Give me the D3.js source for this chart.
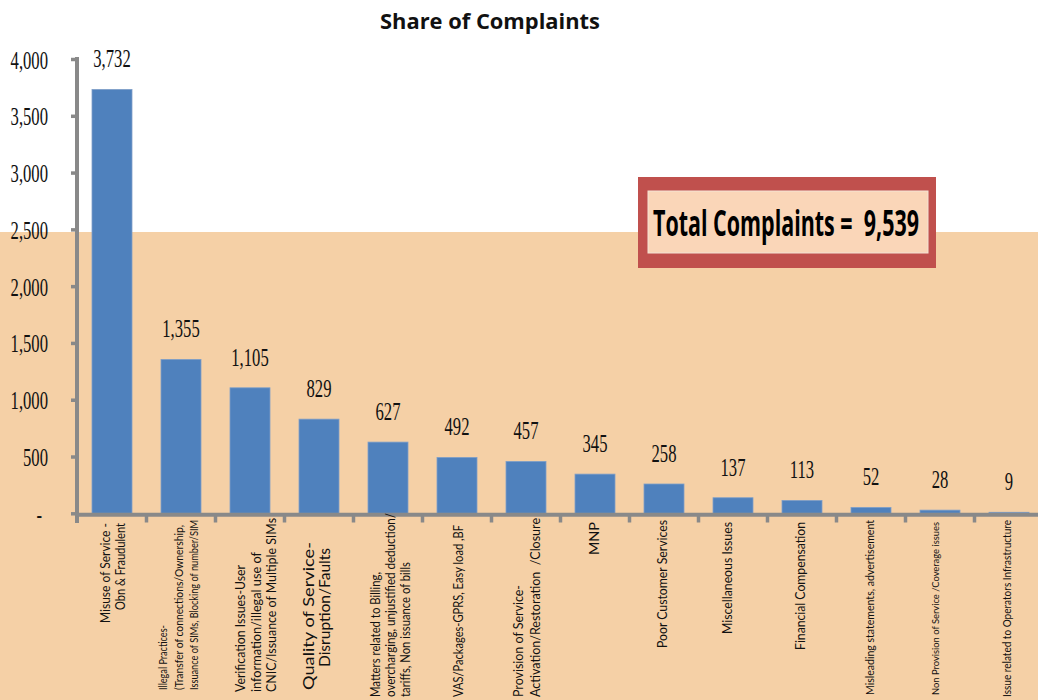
<!DOCTYPE html>
<html><head><meta charset="utf-8">
<script src="https://cdn.jsdelivr.net/npm/d3@7"></script>
<style>html,body{margin:0;padding:0;background:#fff;}svg{display:block;}</style>
</head><body>
<svg id="chart" width="1038" height="700"></svg>
<script>
// ---- data ----
const categories = [
  "Misuse of Service -\nObn & Fraudulent",
  "Illegal Practices-\n(Transfer of connections/Ownership,\nIssuance of SIMs, Blocking of number/SIM",
  "Verification Issues-User\ninformation/illegal use of\nCNIC/Issuance of Multiple SIMs",
  "Quality of Service-\nDisruption/Faults",
  "Matters related to Billing,\novercharging, unjustified deduction/\ntariffs, Non issuance of bills",
  "VAS/Packages-GPRS, Easy load ,BF",
  "Provision of Service-\nActivation/Restoration  /Closure",
  "MNP",
  "Poor Customer Services",
  "Miscellaneous Issues",
  "Financial Compensation",
  "Misleading statements, advertisement",
  "Non Provision of Service /Coverage issues",
  "Issue related to Operators Infrastructure"
];
const values = [3732, 1355, 1105, 829, 627, 492, 457, 345, 258, 137, 113, 52, 28, 9];
const yTicks = [0, 500, 1000, 1500, 2000, 2500, 3000, 3500, 4000];
const titleText = "Share of Complaints";
const totalText = "Total Complaints =  9,539";

// ---- layout / style for rotated category labels (not data) ----
// fs: font size, dx: offset of block centre, gap: line spacing,
// lines: [y where the line ends (top), length]
const labelLayout = [
  {fs:14, dx:0,  gap:15,   lines:[[523,100],[523,87]]},
  {fs:11, dx:-3, gap:15.5, lines:[[625,65],[525,165],[520,170]]},
  {fs:13, dx:5.5,gap:15.5, lines:[[565,127],[552,140],[518,174]]},
  {fs:16, dx:-4, gap:16,   lines:[[542,148],[548,119]]},
  {fs:12.5,dx:2, gap:15,   lines:[[572,125],[513,184],[562,135]]},
  {fs:13.5,dx:1, gap:15,   lines:[[525,172]]},
  {fs:13.5,dx:0, gap:17,   lines:[[585,112],[518,179]]},
  {fs:13, dx:-1, gap:15,   lines:[[522,33]]},
  {fs:13.5,dx:-2,gap:15,   lines:[[520,128]]},
  {fs:13.5,dx:-6,gap:15,   lines:[[522,112]]},
  {fs:13.5,dx:-2,gap:15,   lines:[[522,128]]},
  {fs:11, dx:-2, gap:15,   lines:[[520,175]]},
  {fs:10, dx:-5, gap:15,   lines:[[522,173]]},
  {fs:10.5,dx:-2,gap:15,   lines:[[520,177]]}
];

const W = 1038, H = 700;
const svg = d3.select("#chart");
const axisColor = "#898989";
const peach = "#F5D0A6";

// backgrounds
svg.append("rect").attr("x",0).attr("y",0).attr("width",W).attr("height",H).attr("fill","#fff");
svg.append("rect").attr("x",0).attr("y",232).attr("width",W).attr("height",H-232).attr("fill",peach);

// scales
const x = d3.scaleBand().domain(d3.range(categories.length))
  .range([77.5, 77.5 + 69*categories.length])
  .paddingInner(29/69).paddingOuter(29/138);
const y = d3.scaleLinear().domain([0, 4000]).range([513.3, 59]);

// bars
svg.append("g").selectAll("rect").data(values).join("rect")
  .attr("x", (d,i) => x(i))
  .attr("y", d => y(d))
  .attr("width", x.bandwidth())
  .attr("height", d => y(0) - y(d))
  .attr("fill", "#4F81BD")
  .attr("stroke", "#7f9fc8").attr("stroke-width", 0.8);

// value labels
const serifScale = 0.64;
svg.append("g").selectAll("text").data(values).join("text")
  .attr("transform", (d,i) => `translate(${x(i)+x.bandwidth()/2},${y(d)-22}) scale(${serifScale},1)`)
  .attr("text-anchor","middle")
  .attr("font-family","'Liberation Serif','Times New Roman',serif")
  .attr("font-size",26).attr("fill","#111")
  .text(d => d3.format(",")(d));

// y axis
const yAxis = d3.axisLeft(y).tickValues(yTicks).tickSize(6).tickSizeOuter(0)
  .tickFormat(d => d === 0 ? "-" : d3.format(",")(d));
const gy = svg.append("g").attr("transform","translate(77,0)").call(yAxis);
gy.select(".domain").remove();
gy.selectAll(".tick line").attr("stroke",axisColor).attr("stroke-width",3.5);
gy.selectAll(".tick text")
  .attr("x",null).attr("dy",null)
  .attr("transform", d => `translate(${d===0 ? -35 : -29},9) scale(${serifScale},1)`)
  .attr("text-anchor","end")
  .attr("font-family","'Liberation Serif','Times New Roman',serif")
  .attr("font-size",26).attr("fill","#111");
svg.append("line").attr("x1",77).attr("x2",77).attr("y1",y(4000)-2).attr("y2",523)
  .attr("stroke",axisColor).attr("stroke-width",4);

// x axis line and boundary ticks
svg.append("line").attr("x1",75).attr("x2",W).attr("y1",514.7).attr("y2",514.7)
  .attr("stroke",axisColor).attr("stroke-width",4);
const gap = x.step() - x.bandwidth();
svg.append("g").selectAll("line").data(d3.range(1, categories.length)).join("line")
  .attr("x1", i => x(i) - gap/2).attr("x2", i => x(i) - gap/2)
  .attr("y1", 514).attr("y2", 522.5)
  .attr("stroke",axisColor).attr("stroke-width",3.5);

// category labels (rotated)
const gl = svg.append("g");
categories.forEach((cat, i) => {
  const L = labelLayout[i];
  const lines = cat.split("\n");
  const cx = x(i) + x.bandwidth()/2 + L.dx;
  lines.forEach((ln, j) => {
    const lx = cx + (j - (lines.length-1)/2) * L.gap;
    const [endY, len] = L.lines[j];
    gl.append("text")
      .attr("transform", `translate(${lx},${endY}) rotate(-90)`)
      .attr("text-anchor","end")
      .attr("dominant-baseline","central")
      .attr("font-family","Lato,'Open Sans',sans-serif")
      .attr("font-size", L.fs).attr("fill","#111")
      .style("white-space","pre")
      .attr("textLength", len).attr("lengthAdjust","spacingAndGlyphs")
      .text(ln);
  });
});

// title
const title = svg.append("text")
  .attr("text-anchor","middle")
  .attr("font-family","'Open Sans',sans-serif").attr("font-weight","bold")
  .attr("font-size",21).attr("fill","#111")
  .text(titleText);
const tW = title.node().getComputedTextLength();
title.attr("transform", `translate(490,29) scale(${220/tW},1)`);

// total box
svg.append("rect").attr("x",638).attr("y",177).attr("width",298).attr("height",91).attr("fill","#C0504D");
svg.append("rect").attr("x",648).attr("y",191).attr("width",280).attr("height",62)
  .attr("fill","#FAD6B8").attr("stroke","#f3e3d6").attr("stroke-width",1);
const tot = svg.append("text")
  .attr("font-family","'Open Sans',sans-serif").attr("font-weight","bold")
  .attr("font-size",36).attr("fill","#000")
  .style("white-space","pre")
  .text(totalText);
const totW = tot.node().getComputedTextLength();
tot.attr("transform", `translate(653,235.5) scale(${266/totW},1)`);
</script>
</body></html>
